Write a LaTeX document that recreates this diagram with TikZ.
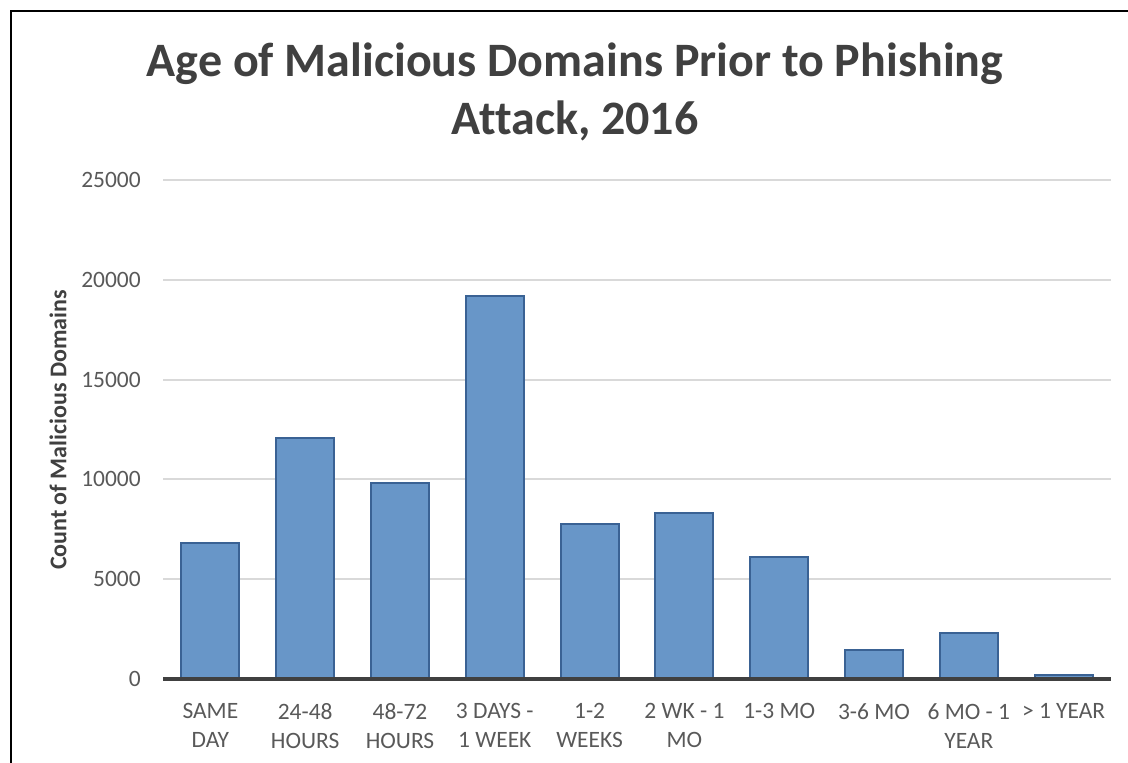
\documentclass[tikz,border=0pt]{standalone}
\usepackage{fontspec}
\setmainfont{Carlito}[Ligatures=NoCommon]
\usepackage{xcolor}
\usepackage{tikz}
\definecolor{barfill}{RGB}{104,150,200}
\definecolor{barline}{RGB}{58,98,148}
\definecolor{gridgray}{RGB}{217,217,217}
\definecolor{titlegray}{RGB}{64,64,64}
\definecolor{ticktext}{RGB}{89,89,89}
\tikzstyle{bar} = [fill=barfill, draw=barline, line width=1.5pt]
\tikzstyle{gridline} = [draw=gridgray, line width=1.5pt]
\tikzstyle{axisline} = [draw=titlegray, line width=2.6pt]
\tikzstyle{ticklabel} = [anchor=east, inner sep=0pt, text=ticktext, font=\fontsize{17.6}{21}\selectfont]
\tikzstyle{catlabel} = [anchor=north, inner sep=0pt, align=center, text=ticktext, font=\fontsize{17.6}{21.75}\selectfont]

\begin{document}
\begin{tikzpicture}[x=0.75pt, y=-0.75pt]
   \useasboundingbox (0,0) rectangle (1128,763);
   \draw [line width=2pt] (11,763) -- (11,11) -- (1128,11);
   \node (title) [align=center, text=titlegray, font=\fontsize{36}{43.5}\selectfont\bfseries] at (575,92) {Age of Malicious Domains Prior to Phishing\\Attack, 2016};
   \node (ytitle) [rotate=90, text=titlegray, font=\fontsize{18}{20}\selectfont\bfseries] at (58,430) {Count of Malicious Domains};
   % grid and y ticks
   \foreach \v [count=\k from 0] in {0,5000,10000,15000,20000,25000} {
      \draw [gridline] (163,679-99.8*\k) -- (1111,679-99.8*\k);
      \node (tick\k) [ticklabel] at (141,679-99.8*\k) {\v};
   }
   % bars (heights in hundreds)
   \foreach \h/\t [count=\i from 0] in {68.1/{SAME\\DAY}, 120.7/{24-48\\HOURS}, 98.2/{48-72\\HOURS}, 191.9/{3 DAYS -\\1 WEEK}, 77.65/{1-2\\WEEKS}, 83.2/{2 WK - 1\\MO}, 61.1/{1-3 MO}, 14.5/{3-6 MO}, 23/{6 MO - 1\\YEAR}, 2.2/{> 1 YEAR}} {
      \draw [bar] (163+94.8*\i+18.4,679) rectangle (163+94.8*\i+76.4,679-1.996*\h);
      \node (cat\i) [catlabel] at (163+94.8*\i+47.4,703) {\t};
   }
   \draw [axisline] (163,679) -- (1111,679);
\end{tikzpicture}
\end{document}
